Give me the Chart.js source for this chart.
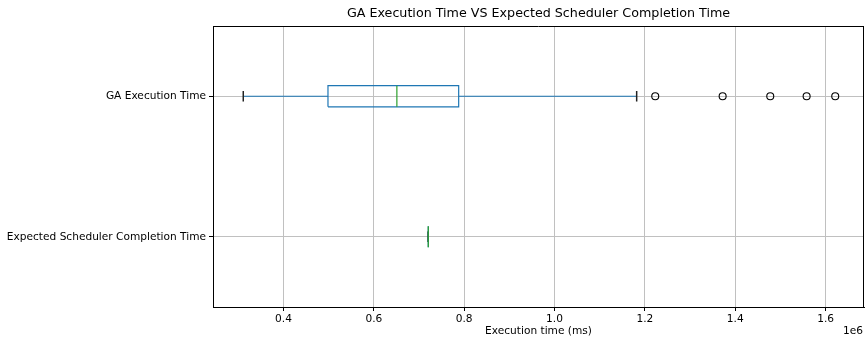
<!DOCTYPE html>
<html><head><meta charset="utf-8">
<script src="https://cdn.jsdelivr.net/npm/chart.js@4/dist/chart.umd.min.js"></script>
<style>html,body{margin:0;padding:0;background:#fff}canvas{display:block}</style>
</head><body>
<canvas id="c" width="865" height="338"></canvas>
<script>
// ---- data ----
const categories = ["GA Execution Time", "Expected Scheduler Completion Time"];
const positions = [2, 1];
const whiskerLow = [311000, 720500];
const q1 = [498500, 720500];
const median = [651000, 720500];
const q3 = [787800, 720500];
const whiskerHigh = [1181800, 720500];
const outliers = [[1222900, 1372100, 1477500, 1558000, 1621300], []];
const xTicks = [400000, 600000, 800000, 1000000, 1200000, 1400000, 1600000];
const xLimits = [244000, 1685000];
const yLimits = [0.5, 2.5];
const titleText = 'GA Execution Time VS Expected Scheduler Completion Time';
const xTitle = 'Execution time (ms)';
const offsetText = '1e6';

// ---- style ----
const BOX = '#1f77b4', MED = '#2ca02c', CAP = '#222222';
const HALF = 0.075; // half box width in category units
const FS = 10.6;

Chart.defaults.font.family = "'DejaVu Sans', sans-serif";
Chart.defaults.font.size = FS;
Chart.defaults.color = '#000';

const datasets = [];
const seg = (pts, color, order, w) => ({
  type: 'scatter', data: pts, showLine: true, borderColor: color, borderWidth: w || 1.2,
  pointRadius: 0, pointHoverRadius: 0, fill: false, order: order
});
categories.forEach((c, i) => {
  const p = positions[i];
  datasets.push(seg([{x: median[i], y: p - HALF}, {x: median[i], y: p + HALF}], MED, 0));
  datasets.push(seg([
    {x: q1[i], y: p - HALF}, {x: q3[i], y: p - HALF}, {x: q3[i], y: p + HALF},
    {x: q1[i], y: p + HALF}, {x: q1[i], y: p - HALF}], BOX, 1));
  datasets.push(seg([{x: whiskerLow[i], y: p - HALF / 2}, {x: whiskerLow[i], y: p + HALF / 2}], CAP, 2, 1.5));
  datasets.push(seg([{x: whiskerHigh[i], y: p - HALF / 2}, {x: whiskerHigh[i], y: p + HALF / 2}], CAP, 2, 1.5));
  datasets.push(seg([{x: whiskerLow[i], y: p}, {x: q1[i], y: p}], BOX, 3));
  datasets.push(seg([{x: q3[i], y: p}, {x: whiskerHigh[i], y: p}], BOX, 3));
  if (outliers[i].length) {
    datasets.push({
      type: 'scatter', data: outliers[i].map(v => ({x: v, y: p})),
      pointStyle: 'circle', pointRadius: 3.5, pointBorderWidth: 1.1,
      pointBorderColor: '#000', pointBackgroundColor: 'rgba(0,0,0,0)', showLine: false, order: 0
    });
  }
});

const frame = {
  id: 'frame',
  afterDraw(chart) {
    const {ctx, chartArea: a} = chart;
    ctx.save();
    ctx.strokeStyle = '#000'; ctx.lineWidth = 1;
    ctx.beginPath();
    ctx.moveTo(a.left, a.top + 0.5); ctx.lineTo(a.right, a.top + 0.5);
    ctx.moveTo(a.right - 0.5, a.top); ctx.lineTo(a.right - 0.5, a.bottom);
    ctx.stroke();
    ctx.font = FS + "px 'DejaVu Sans', sans-serif";
    ctx.fillStyle = '#000'; ctx.textAlign = 'right'; ctx.textBaseline = 'middle';
    ctx.fillText(offsetText, a.right - 1, 331);
    ctx.restore();
  }
};

new Chart(document.getElementById('c'), {
  type: 'scatter',
  data: {datasets},
  plugins: [frame],
  options: {
    responsive: false, animation: false, devicePixelRatio: 1,
    layout: {padding: {left: 0, right: 1, top: 0, bottom: 0}, autoPadding: false},
    plugins: {legend: {display: false}, tooltip: {enabled: false}, title: {display: false}},
    scales: {
      x2: {
        type: 'linear', position: 'top', min: xLimits[0], max: xLimits[1],
        afterFit: s => { s.height = 26; },
        ticks: {display: false}, grid: {display: false, drawTicks: false}, border: {display: false},
        title: {display: true, text: titleText, color: '#000', font: {size: 12.7}, padding: {top: 6, bottom: 4}}
      },
      x: {
        type: 'linear', position: 'bottom', min: xLimits[0], max: xLimits[1],
        afterBuildTicks: s => { s.ticks = xTicks.map(v => ({value: v})); },
        afterFit: s => { s.height = 31; },
        ticks: {callback: v => (v / 1e6).toFixed(1), padding: 2, maxRotation: 0, autoSkip: false, color: '#000'},
        grid: {color: '#c0c0c0', lineWidth: 1, tickColor: '#000', tickLength: 4, tickWidth: 1},
        border: {display: true, color: '#000', width: 1},
        title: {display: true, text: xTitle, color: '#000', font: {size: FS}, padding: {top: 0, bottom: 0}}
      },
      y: {
        type: 'linear', min: yLimits[0], max: yLimits[1],
        afterBuildTicks: s => { s.ticks = positions.map(v => ({value: v})); },
        afterFit: s => { s.width = 213; },
        ticks: {callback: v => { const k = positions.indexOf(v); return k >= 0 ? categories[k] : ''; }, padding: 3, autoSkip: false, color: '#000'},
        grid: {color: '#c0c0c0', lineWidth: 1, tickColor: '#000', tickLength: 4, tickWidth: 1},
        border: {display: true, color: '#000', width: 1}
      }
    }
  }
});
</script>
</body></html>
